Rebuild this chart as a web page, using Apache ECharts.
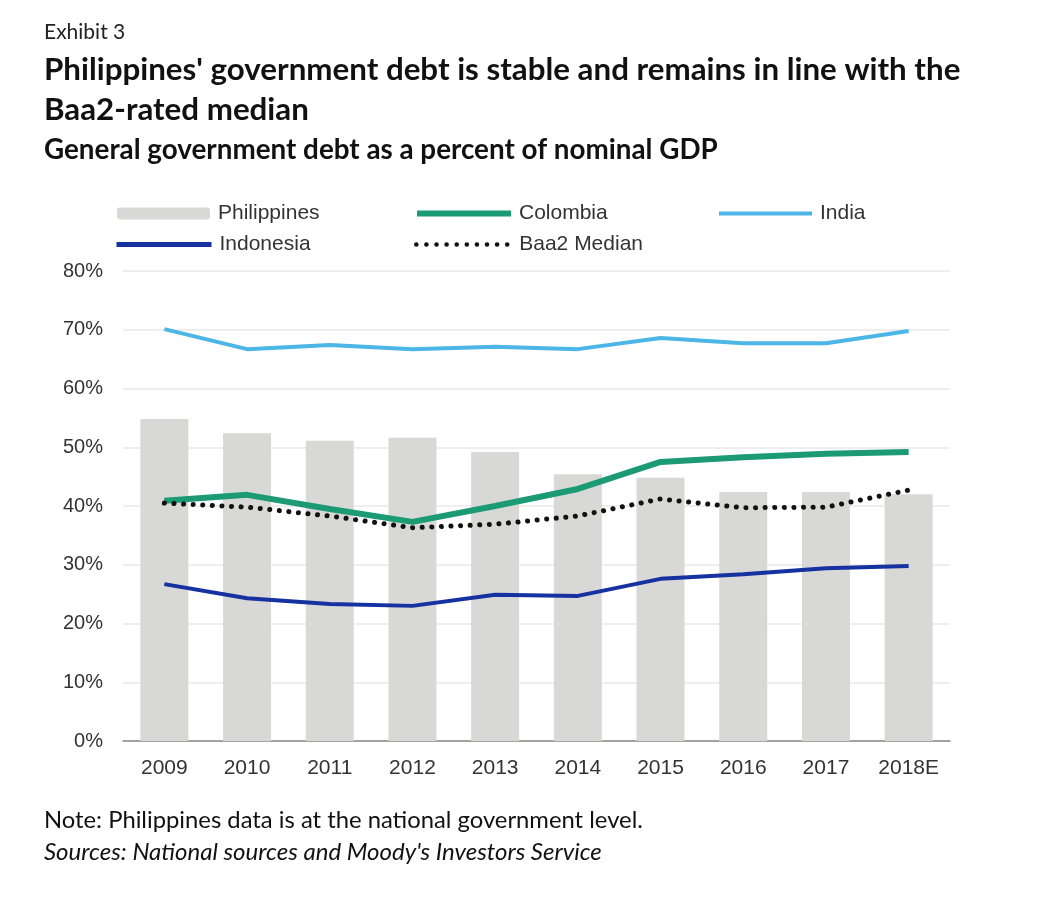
<!DOCTYPE html>
<html>
    <head>
        <meta charset="UTF-8" />
        <script src="https://cdn.jsdelivr.net/npm/echarts@6/dist/echarts.min.js"></script>
        <style>
            html, body { margin: 0; padding: 0; background: #fff; }
        </style>
    </head>

    <body>
        <div id="main" style="width: 1041px; height: 924px"></div>
        <script type="text/javascript">
            // data (percent of nominal GDP)
            var years = ['2009', '2010', '2011', '2012', '2013', '2014', '2015', '2016', '2017', '2018E'];
            var philippines = [54.8, 52.4, 51.1, 51.6, 49.2, 45.4, 44.8, 42.4, 42.4, 42.0];
            var colombia = [40.9, 41.9, 39.5, 37.3, 40.0, 42.9, 47.5, 48.3, 48.9, 49.2];
            var india = [70.1, 66.7, 67.4, 66.7, 67.1, 66.7, 68.6, 67.7, 67.7, 69.8];
            var indonesia = [26.7, 24.3, 23.3, 23.0, 24.9, 24.7, 27.6, 28.4, 29.4, 29.8];
            var baa2Median = [40.5, 39.8, 38.3, 36.3, 36.9, 38.3, 41.2, 39.7, 39.8, 42.7];

            var chartDom = document.getElementById('main');
            var myChart = echarts.init(chartDom);

            var headFont = 'Lato, "Open Sans", sans-serif';
            var axisFont = '"Liberation Sans", Arial, sans-serif';

            // one legend per item so each can sit where the exhibit puts it
            function legendAt(name, left, top, w, h, line) {
                var lg = {
                    data: [name],
                    left: left,
                    top: top,
                    itemWidth: w,
                    itemHeight: h,
                    itemGap: 0,
                    padding: 0,
                    selectedMode: false,
                    textStyle: {
                        fontFamily: axisFont,
                        fontSize: 21,
                        color: '#333',
                        padding: [0, 0, 0, 3]
                    }
                };
                if (line) {
                    lg.itemStyle = { opacity: 0 };
                    lg.lineStyle = line;
                }
                return lg;
            }

            var option = {
                animation: false,
                backgroundColor: '#fff',
                title: [
                    {
                        text: 'Exhibit 3',
                        left: 39, top: 17,
                        textStyle: { fontFamily: headFont, fontSize: 21, fontWeight: 'normal', color: '#222' }
                    },
                    {
                        text: "Philippines' government debt is stable and remains in line with the\nBaa2-rated median",
                        left: 39, top: 45,
                        textStyle: { fontFamily: headFont, fontSize: 31.3, fontWeight: 'bold', color: '#111', lineHeight: 40 }
                    },
                    {
                        text: 'General government debt as a percent of nominal GDP',
                        left: 39, top: 131,
                        textStyle: { fontFamily: headFont, fontSize: 27.8, fontWeight: 'bold', color: '#111' }
                    },
                    {
                        text: 'Note: Philippines data is at the national government level.',
                        left: 39, top: 803,
                        textStyle: { fontFamily: headFont, fontSize: 23.8, fontWeight: 'normal', color: '#111' }
                    },
                    {
                        text: "Sources: National sources and Moody's Investors Service",
                        left: 39, top: 835,
                        textStyle: { fontFamily: headFont, fontSize: 24, fontWeight: 'normal', fontStyle: 'italic', color: '#111' }
                    }
                ],
                legend: [
                    legendAt('Philippines', 117, 203, 93, 12),
                    legendAt('Colombia', 414, 203, 94, 12, { width: 6 }),
                    legendAt('India', 717, 203, 93, 12, { width: 4 }),
                    legendAt('Indonesia', 114, 234, 95, 12, { width: 5 }),
                    legendAt('Baa2 Median', 414, 234, 95, 12, { width: 4.5, type: [0.1, 10], cap: 'round' })
                ],
                grid: {
                    left: 123,
                    right: 91,
                    top: 271,
                    bottom: 183
                },
                xAxis: {
                    type: 'category',
                    data: years,
                    axisTick: { show: false },
                    axisLine: { lineStyle: { color: '#8a8a8a', width: 1.5 } },
                    axisLabel: {
                        fontFamily: axisFont,
                        fontSize: 21,
                        color: '#333',
                        margin: 17
                    }
                },
                yAxis: {
                    type: 'value',
                    min: 0,
                    max: 80,
                    interval: 10,
                    axisLine: { show: false },
                    axisTick: { show: false },
                    splitLine: { lineStyle: { color: '#e8e8e8', width: 1.5 } },
                    axisLabel: {
                        fontFamily: axisFont,
                        fontSize: 20,
                        color: '#333',
                        margin: 20,
                        formatter: '{value}%'
                    }
                },
                series: [
                    {
                        name: 'Philippines',
                        type: 'bar',
                        data: philippines,
                        barWidth: '58%',
                        itemStyle: { color: '#d8d8d6' },
                        z: 1
                    },
                    {
                        name: 'Colombia',
                        type: 'line',
                        data: colombia,
                        symbol: 'none',
                        color: '#1b9a74',
                        lineStyle: { color: '#1b9a74', width: 6 },
                        z: 3
                    },
                    {
                        name: 'India',
                        type: 'line',
                        data: india,
                        symbol: 'none',
                        color: '#4cb6e6',
                        lineStyle: { color: '#4cb6e6', width: 4 },
                        z: 3
                    },
                    {
                        name: 'Indonesia',
                        type: 'line',
                        data: indonesia,
                        symbol: 'none',
                        color: '#1532a0',
                        lineStyle: { color: '#1532a0', width: 4 },
                        z: 3
                    },
                    {
                        name: 'Baa2 Median',
                        type: 'line',
                        data: baa2Median,
                        symbol: 'none',
                        color: '#111',
                        lineStyle: { color: '#111', width: 5, type: [0.1, 9.5], cap: 'round' },
                        z: 4
                    }
                ]
            };

            option && myChart.setOption(option);
        </script>
    </body>
</html>
